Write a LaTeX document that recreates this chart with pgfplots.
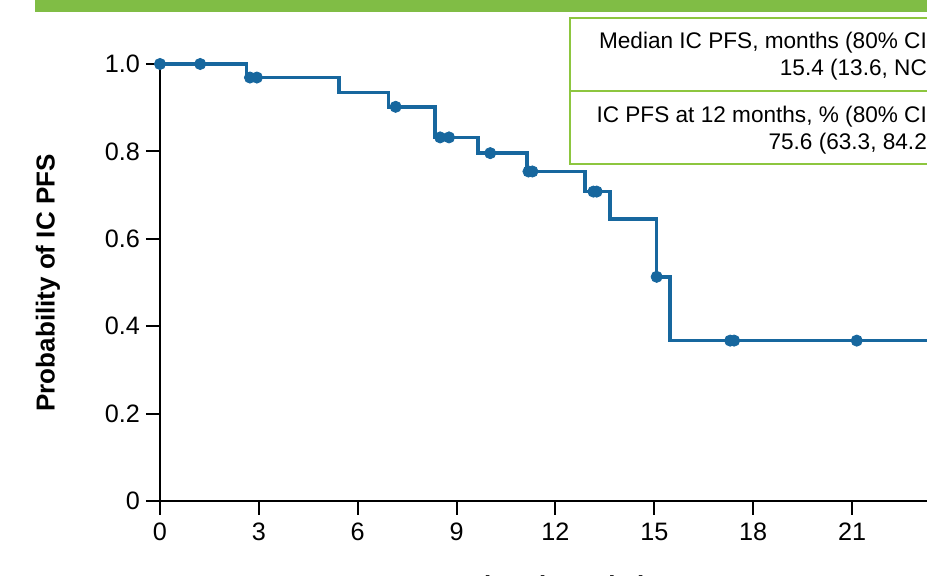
\documentclass[border=0pt]{standalone}
\usepackage{pgfplots}
\pgfplotsset{compat=1.18}
\usepackage{fontspec}
\setmainfont{Liberation Sans}
\definecolor{kmblue}{HTML}{17679E}
\definecolor{hdrgreen}{HTML}{80BD45}
\definecolor{boxgreen}{HTML}{8DC63F}
\begin{document}
\begin{tikzpicture}
\useasboundingbox (-80pt,-37.5pt) rectangle (383.5pt,250.5pt);
\clip (-80pt,-37.5pt) rectangle (383.5pt,250.5pt);
\begin{axis}[
  at={(0pt,0pt)}, anchor=origin,
  scale only axis, width=395.5pt, height=218.5pt,
  xmin=0, xmax=24, ymin=0, ymax=1,
  axis lines=left, axis line style={line width=1pt, -, black},
  xtick={0,3,6,9,12,15,18,21,24}, ytick={0,0.2,0.4,0.6,0.8,1.0},
  xticklabels={0,3,6,9,12,15,18,21,24},
  yticklabels={0,0.2,0.4,0.6,0.8,1.0},
  tick align=outside, major tick length=7pt,
  every tick/.style={line width=1pt, black},
  ticklabel style={font=\fontsize{12.6}{14}\selectfont},
  xticklabel style={yshift=-0.5pt},
  yticklabel style={xshift=0.5pt},
  /pgf/number format/assume math mode=true,
  clip=false,
]
\addplot[const plot, kmblue, line width=1.8pt] coordinates {
  (0,1.0) (2.63,0.969) (5.43,0.935) (6.93,0.902) (8.35,0.832)
  (9.64,0.796) (11.13,0.754) (12.9,0.708) (13.66,0.645)
  (15.07,0.513) (15.47,0.367) (24,0.367)
};
\addplot[only marks, mark=*, mark size=2.8pt, kmblue] coordinates {
  (0,1.0) (1.22,1.0) (2.73,0.969) (2.94,0.969) (7.15,0.902)
  (8.50,0.832) (8.77,0.832) (10.02,0.796) (11.18,0.754) (11.30,0.754)
  (13.15,0.708) (13.25,0.708) (15.07,0.513) (17.30,0.367) (17.42,0.367)
  (21.14,0.367)
};
\end{axis}
\begin{scope}[x=0.5pt,y=-0.5pt,shift={(-80pt,250.5pt)}]
  \fill[hdrgreen] (35,-5) rectangle (940,12);
  \draw[boxgreen, line width=1pt, fill=white] (570,18) rectangle (945,164);
  \draw[boxgreen, line width=1pt] (570,91) -- (945,91);
  \begin{scope}[every node/.style={font=\fontsize{11.3}{13}\selectfont, inner sep=0pt, anchor=base east}]
    \node at (934.8,49) {Median IC PFS, months (80\% CI)};
    \node at (934.8,76) {15.4 (13.6, NC)};
    \node at (934.8,123) {IC PFS at 12 months, \% (80\% CI)};
    \node at (934.8,150) {75.6 (63.3, 84.2)};
  \end{scope}
  \node[rotate=90, font=\bfseries\fontsize{13}{15}\selectfont, anchor=center] at (48,283) {Probability of IC PFS};
  \node[font=\bfseries\fontsize{13}{15}\selectfont, anchor=base, inner sep=0pt] at (558,595) {Time (months)};
\end{scope}
\end{tikzpicture}
\end{document}
